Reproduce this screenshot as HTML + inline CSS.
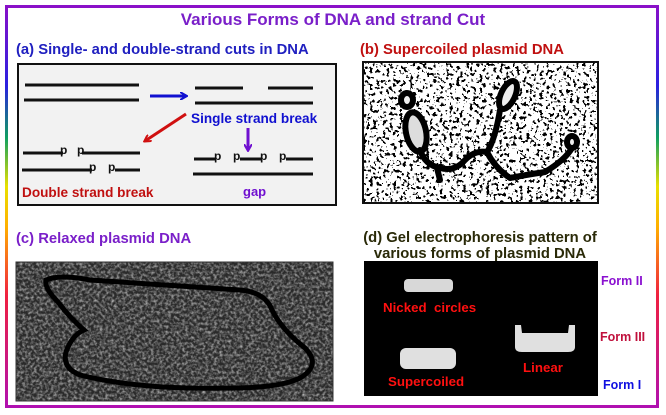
<!DOCTYPE html>
<html><head><meta charset="utf-8"><style>
html,body{margin:0;padding:0;background:#fff;}
body{width:666px;height:415px;position:relative;overflow:hidden;font-family:"Liberation Sans",Arial,sans-serif;font-weight:bold;}
.t{position:absolute;white-space:nowrap;}
</style></head><body>
<svg width="666" height="415" style="position:absolute;left:0;top:0">
<defs>
<linearGradient id="side" x1="0" y1="0" x2="0" y2="1">
<stop offset="0" stop-color="#8a10c8"/><stop offset="0.2" stop-color="#2a20e0"/>
<stop offset="0.33" stop-color="#10a060"/><stop offset="0.45" stop-color="#e8e000"/>
<stop offset="0.55" stop-color="#ffb000"/><stop offset="0.72" stop-color="#f02040"/>
<stop offset="1" stop-color="#b010b0"/></linearGradient>
<filter id="noiseB" x="0" y="0" width="100%" height="100%">
<feTurbulence type="fractalNoise" baseFrequency="0.3" numOctaves="2" seed="3"/>
<feColorMatrix type="matrix" values="0 0 0 0 0  0 0 0 0 0  0 0 0 0 0  1 0 0 0 0"/>
<feComponentTransfer><feFuncA type="discrete" tableValues="0 0 0 1 1"/></feComponentTransfer>
</filter>
<filter id="noiseC" x="0" y="0" width="100%" height="100%">
<feTurbulence type="fractalNoise" baseFrequency="0.35" numOctaves="2" seed="7"/>
<feColorMatrix type="matrix" values="0 0 0 0 1  0 0 0 0 1  0 0 0 0 1  1.6 0 0 0 -0.6"/>
</filter>
<marker id="ab" markerWidth="8" markerHeight="8" refX="6" refY="4" orient="auto" markerUnits="userSpaceOnUse"><path d="M0,0 L7,4 L0,8" fill="none" stroke="#1010d0" stroke-width="2"/></marker>
<marker id="ar" markerWidth="8" markerHeight="8" refX="6" refY="4" orient="auto" markerUnits="userSpaceOnUse"><path d="M0,0 L7,4 L0,8" fill="none" stroke="#d01010" stroke-width="2"/></marker>
<marker id="ap" markerWidth="8" markerHeight="8" refX="6" refY="4" orient="auto" markerUnits="userSpaceOnUse"><path d="M0,0 L7,4 L0,8" fill="none" stroke="#7010d0" stroke-width="2"/></marker>
</defs>
<rect x="5" y="5" width="654" height="3" fill="#8a10c8"/>
<rect x="5" y="405" width="654" height="3" fill="#b010b0"/>
<rect x="5" y="5" width="3" height="403" fill="url(#side)"/>
<rect x="656" y="5" width="3" height="403" fill="url(#side)"/>

<rect x="18" y="64" width="318" height="141" fill="#f2f2f2" stroke="#111" stroke-width="2"/>
<g stroke="#111" stroke-width="3">
<line x1="25" y1="85" x2="139" y2="85"/><line x1="24" y1="100" x2="139" y2="100"/>
<line x1="195" y1="88" x2="243" y2="88"/><line x1="268" y1="88" x2="313" y2="88"/>
<line x1="195" y1="103" x2="313" y2="103"/>
<line x1="23" y1="153" x2="63" y2="153"/><line x1="82" y1="153" x2="140" y2="153"/>
<line x1="22" y1="170" x2="92" y2="170"/><line x1="115" y1="170" x2="140" y2="170"/>
<line x1="194" y1="159" x2="216" y2="159"/><line x1="240" y1="159" x2="262" y2="159"/><line x1="286" y1="159" x2="313" y2="159"/>
<line x1="193" y1="174" x2="313" y2="174"/>
</g>
<line x1="150" y1="96" x2="186" y2="96" stroke="#1010d0" stroke-width="3" marker-end="url(#ab)"/>
<line x1="186" y1="114" x2="145" y2="141" stroke="#d01010" stroke-width="3" marker-end="url(#ar)"/>
<line x1="248" y1="128" x2="248" y2="150" stroke="#7010d0" stroke-width="3" marker-end="url(#ap)"/>

<rect x="363" y="62" width="235" height="141" fill="#fff"/>
<rect x="363" y="62" width="235" height="141" filter="url(#noiseB)"/>
<g fill="none" stroke="#000" stroke-width="6" stroke-linecap="round" stroke-linejoin="round">
<ellipse cx="407" cy="100" rx="6" ry="7" fill="#eee"/>
<ellipse cx="416" cy="132" rx="10" ry="20" fill="#ddd" transform="rotate(-12 416 132)"/>
<ellipse cx="508" cy="95" rx="7" ry="15" fill="#eee" transform="rotate(25 508 95)"/>
<path d="M420 150 Q425 165 440 168 Q455 172 465 160 Q475 150 487 152 Q495 140 500 110"/>
<path d="M487 152 Q495 168 510 178 Q525 175 545 172 Q565 160 572 148"/>
<path d="M437 168 L440 180"/>
<ellipse cx="572" cy="142" rx="5" ry="6" fill="#eee"/>
</g>
<rect x="363" y="62" width="235" height="141" fill="none" stroke="#111" stroke-width="2"/>

<rect x="16" y="262" width="317" height="139" fill="#2a2a2a"/>
<rect x="16" y="262" width="317" height="139" filter="url(#noiseC)" opacity="0.75"/>
<path d="M46 280 Q60 274 90 280 Q180 286 240 290 Q265 292 272 310 Q282 330 305 348 Q322 365 300 378 Q280 388 230 388 Q140 390 80 375 Q62 368 66 352 Q72 335 84 330 Q70 318 58 302 Q44 288 46 280 Z" fill="none" stroke="#000" stroke-width="5"/>
<rect x="16" y="262" width="317" height="139" fill="none" stroke="#333" stroke-width="1"/>

<rect x="364" y="261" width="234" height="135" fill="#000"/>
<rect x="404" y="279" width="49" height="13" rx="4" fill="#d8d8d8"/>
<rect x="400" y="348" width="56" height="21" rx="6" fill="#e0e0e0"/>
<path d="M515 325 L521 325 L522 333 L568 333 L569 325 L575 325 L575 347 Q575 352 568 352 L522 352 Q515 352 515 347 Z" fill="#e0e0e0"/>
</svg>

<div class="t" style="left:0;width:666px;text-align:center;top:10px;font-size:17px;color:#7a1fc9;">Various Forms of DNA and strand Cut</div>
<div class="t" style="left:16px;top:42px;font-size:14.8px;color:#2020c0;">(a) Single- and double-strand cuts in DNA</div>
<div class="t" style="left:360px;top:42px;font-size:14.8px;color:#c01010;">(b) Supercoiled plasmid DNA</div>
<div class="t" style="left:16px;top:231px;font-size:14.8px;color:#7a1fc9;">(c) Relaxed plasmid DNA</div>
<div class="t" style="left:350px;width:260px;text-align:center;top:230px;font-size:14.8px;color:#2a2a08;line-height:16px;">(d) Gel electrophoresis pattern of<br>various forms of plasmid DNA</div>

<div class="t" style="left:191px;top:111px;font-size:13.6px;color:#1010d0;">Single strand break</div>
<div class="t" style="left:22px;top:185px;font-size:13.6px;color:#c01010;">Double strand break</div>
<div class="t" style="left:243px;top:184px;font-size:13px;color:#7010d0;">gap</div>
<div class="t" style="left:60px;top:143px;font-size:12px;color:#111;">p</div>
<div class="t" style="left:77px;top:143px;font-size:12px;color:#111;">p</div>
<div class="t" style="left:89px;top:160px;font-size:12px;color:#111;">p</div>
<div class="t" style="left:108px;top:160px;font-size:12px;color:#111;">p</div>
<div class="t" style="left:214px;top:149px;font-size:12px;color:#111;">p</div>
<div class="t" style="left:233px;top:149px;font-size:12px;color:#111;">p</div>
<div class="t" style="left:260px;top:149px;font-size:12px;color:#111;">p</div>
<div class="t" style="left:279px;top:149px;font-size:12px;color:#111;">p</div>

<div class="t" style="left:383px;top:300px;font-size:13.3px;color:#ff1010;">Nicked&nbsp; circles</div>
<div class="t" style="left:388px;top:374px;font-size:13.3px;color:#ff1010;">Supercoiled</div>
<div class="t" style="left:523px;top:360px;font-size:13.3px;color:#ff1010;">Linear</div>
<div class="t" style="left:601px;top:274px;font-size:12.5px;color:#8a10d0;">Form II</div>
<div class="t" style="left:600px;top:330px;font-size:12.5px;color:#c0103c;">Form III</div>
<div class="t" style="left:603px;top:378px;font-size:12.5px;color:#1010e0;">Form I</div>
</body></html>
